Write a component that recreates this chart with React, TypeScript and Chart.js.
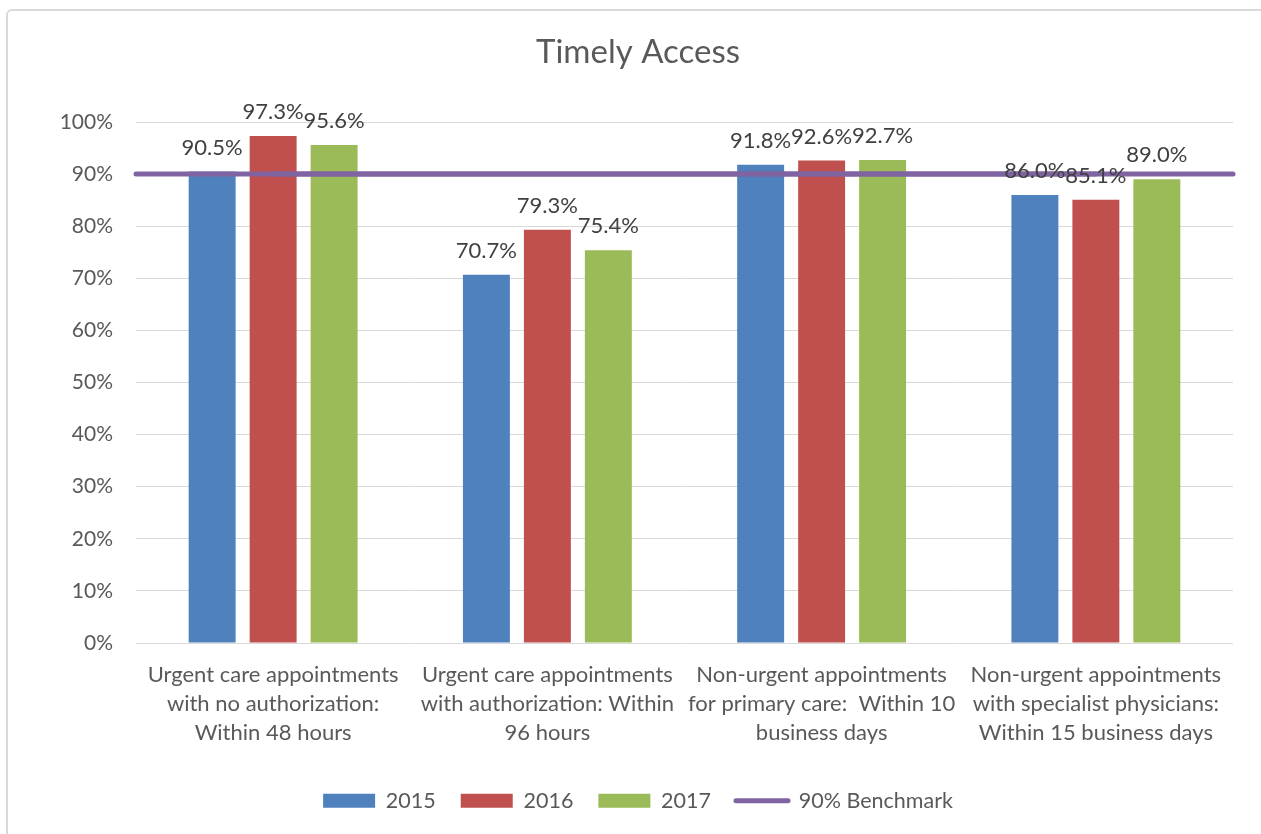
import React, { useEffect, useRef } from "react";
import { Chart, registerables } from "chart.js";

Chart.register(...registerables);

const categories: string[][] = [
  ["Urgent care appointments", "with no authorization:", "Within 48 hours"],
  ["Urgent care appointments", "with authorization: Within", "96 hours"],
  ["Non-urgent appointments", "for primary care:  Within 10", "business days"],
  ["Non-urgent appointments", "with specialist physicians:", "Within 15 business days"],
];

const seriesNames = ["2015", "2016", "2017"];
const values2015 = [90.5, 70.7, 91.8, 86.0];
const values2016 = [97.3, 79.3, 92.6, 85.1];
const values2017 = [95.6, 75.4, 92.7, 89.0];
const benchmarkLabel = "90% Benchmark";
const benchmarkValues = [90, 90, 90, 90];

const yTicks = [0, 10, 20, 30, 40, 50, 60, 70, 80, 90, 100];

const COLORS = ["#4F81BD", "#C0504D", "#9BBB59"];
const BENCH_COLOR = "#8064A2";
const TEXT = "#595959";
const LABEL_TEXT = "#404040";
const GRID = "#D9D9D9";
const FONT = "Lato, 'Open Sans', sans-serif";

// Stretches the benchmark line across the whole plot area, then writes
// the value labels above each bar (on top of the line).
const overlayPlugin = {
  id: "overlay",
  afterDatasetsDraw(chart: any) {
    const { ctx, chartArea } = chart;
    ctx.save();
    chart.data.datasets.forEach((ds: any, i: number) => {
      if (ds.type !== "line") return;
      const meta = chart.getDatasetMeta(i);
      if (!meta.data.length) return;
      const y = meta.data[0].y;
      ctx.beginPath();
      ctx.strokeStyle = ds.borderColor;
      ctx.lineWidth = ds.borderWidth;
      ctx.lineCap = "round";
      ctx.moveTo(chartArea.left, y);
      ctx.lineTo(chartArea.right, y);
      ctx.stroke();
    });

    ctx.font = `22px ${FONT}`;
    ctx.fillStyle = LABEL_TEXT;
    ctx.textAlign = "center";
    ctx.textBaseline = "middle";
    chart.data.datasets.forEach((ds: any, i: number) => {
      if (ds.type === "line") return;
      const meta = chart.getDatasetMeta(i);
      meta.data.forEach((el: any, j: number) => {
        const v = ds.data[j] as number;
        ctx.fillText(`${v.toFixed(1)}%`, el.x, el.y - 24);
      });
    });
    ctx.restore();
  },
};

export default function App() {
  const canvasRef = useRef<HTMLCanvasElement | null>(null);

  useEffect(() => {
    if (!canvasRef.current) return;
    const seriesValues = [values2015, values2016, values2017];
    const chart = new Chart(canvasRef.current, {
      type: "bar",
      data: {
        labels: categories,
        datasets: [
          ...seriesNames.map((name, i) => ({
            type: "bar" as const,
            label: name,
            data: seriesValues[i],
            backgroundColor: COLORS[i],
            borderWidth: 0,
            pointStyle: "rect",
            categoryPercentage: 0.667,
            barPercentage: 0.77,
            order: 1,
          })),
          {
            type: "line" as const,
            label: benchmarkLabel,
            data: benchmarkValues,
            borderColor: BENCH_COLOR,
            backgroundColor: BENCH_COLOR,
            borderWidth: 5,
            borderCapStyle: "round",
            pointRadius: 0,
            pointHoverRadius: 0,
            pointStyle: "line",
            pointBorderColor: BENCH_COLOR,
            pointBorderWidth: 5,
            order: 0,
          } as any,
        ],
      },
      options: {
        responsive: false,
        animation: false,
        layout: { padding: { left: 43, right: 28, top: 0, bottom: 12.5 } },
        scales: {
          x: {
            type: "category",
            grid: { display: false, drawTicks: false },
            border: { display: false },
            ticks: {
              color: TEXT,
              font: { family: FONT, size: 22, lineHeight: 29 / 22 },
              padding: 17.5,
              maxRotation: 0,
              autoSkip: false,
            },
            afterFit(scale: any) {
              scale.height = 122;
            },
          },
          y: {
            min: 0,
            max: 100,
            afterBuildTicks(scale: any) {
              scale.ticks = yTicks.map((v) => ({ value: v }));
            },
            grid: { color: GRID, lineWidth: 1, drawTicks: false },
            border: { display: false },
            ticks: {
              color: TEXT,
              font: { family: FONT, size: 21 },
              padding: 23,
              callback: (v: any) => `${v}%`,
            },
            afterFit(scale: any) {
              scale.width = 93;
            },
          },
        },
        plugins: {
          title: {
            display: true,
            text: "Timely Access",
            color: TEXT,
            font: { family: FONT, size: 33, weight: "normal", lineHeight: 1.2 },
            padding: { top: 32.7, bottom: 49.7 },
          },
          legend: {
            display: true,
            position: "bottom",
            labels: {
              color: TEXT,
              font: { family: FONT, size: 21.5 },
              usePointStyle: true,
              pointStyleWidth: 52,
              boxWidth: 52,
              boxHeight: 14,
              padding: 25,
              sort: (a: any, b: any) => a.datasetIndex - b.datasetIndex,
              generateLabels(c: any) {
                const items = Chart.defaults.plugins.legend.labels.generateLabels(c);
                items.forEach((it: any) => {
                  if (it.datasetIndex === 3) {
                    it.pointStyle = "line";
                    it.lineWidth = 5;
                    it.lineCap = "round";
                    it.strokeStyle = BENCH_COLOR;
                  } else {
                    it.pointStyle = "rect";
                    it.lineWidth = 0;
                  }
                });
                return items;
              },
            },
          },
          tooltip: { enabled: false },
        },
      },
      plugins: [overlayPlugin],
    });
    return () => chart.destroy();
  }, []);

  return (
    <div
      style={{
        position: "absolute",
        left: 0,
        top: 0,
        width: 1261,
        height: 834,
        overflow: "hidden",
        background: "#FFFFFF",
      }}
    >
      <div
        style={{
          position: "absolute",
          left: 6,
          top: 9,
          width: 1300,
          height: 900,
          border: "2px solid #D9D9D9",
          borderRadius: 6,
          boxSizing: "border-box",
        }}
      />
      <canvas
        ref={canvasRef}
        width={1261}
        height={834}
        style={{ position: "absolute", left: 0, top: 0, width: 1261, height: 834 }}
      />
    </div>
  );
}
